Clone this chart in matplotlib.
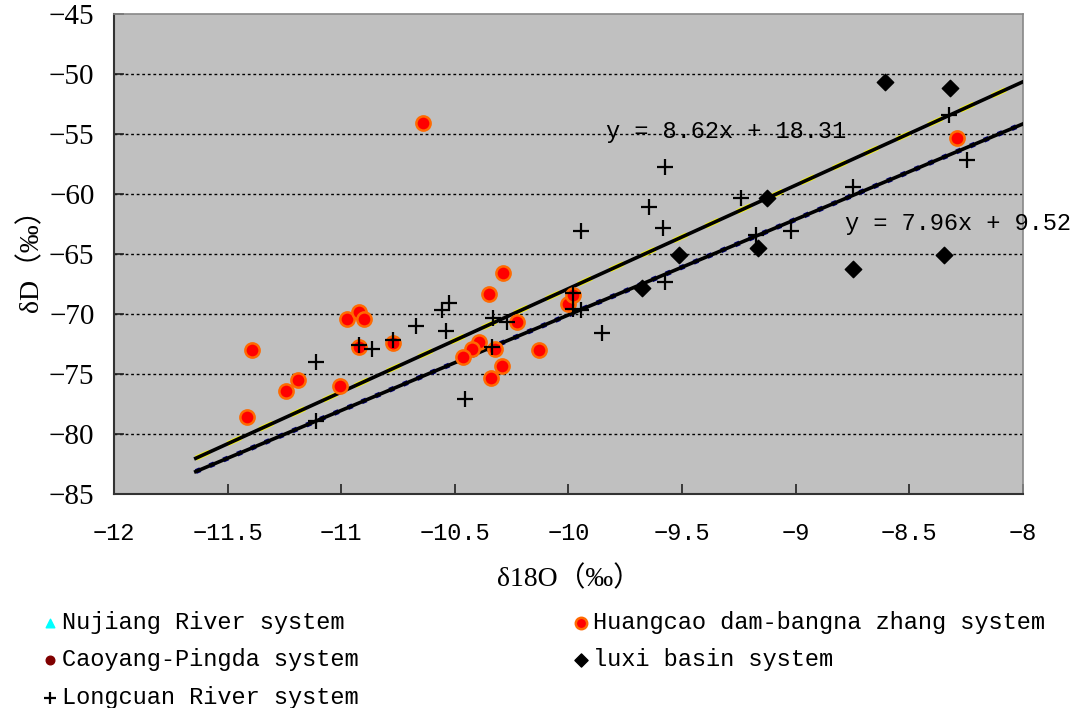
import matplotlib
matplotlib.use("Agg")
import matplotlib.pyplot as plt
import numpy as np

# Huangcao dam-bangna zhang system
huang_x = [-10.64, -8.29, -10.29, -10.35, -10.225, -10.394, -10.426, -10.465, -10.323,
           -10.294, -10.341, -10.131, -10.0, -9.978, -11.393, -11.415, -11.244, -11.191,
           -11.004, -10.974, -10.92, -10.898, -10.92, -10.773]
huang_y = [-54.08, -55.3, -66.6, -68.3, -70.67, -72.3, -72.94, -73.56, -72.89,
           -74.33, -75.33, -73.0, -69.2, -68.42, -73.03, -78.58, -76.39, -75.5,
           -75.97, -70.39, -69.8, -70.39, -72.72, -72.39]

# Longcuan River system
long_x = [-11.112, -11.112, -10.92, -10.866, -10.773, -10.671, -10.558, -10.524, -10.54,
          -10.33, -10.269, -10.338, -10.455, -9.978, -9.978, -9.946, -9.853, -9.945,
          -9.575, -9.644, -9.582, -9.575, -9.242, -9.176, -9.02, -8.748, -8.327, -8.247]
long_y = [-74.03, -78.89, -72.58, -72.92, -72.17, -70.97, -69.67, -69.06, -71.39,
          -70.36, -70.64, -72.78, -77.1, -68.22, -69.6, -69.67, -71.56, -63.06,
          -57.78, -61.06, -62.81, -67.31, -60.31, -63.42, -63.06, -59.43, -53.39, -57.2]

# luxi basin system
luxi_x = [-9.127, -9.513, -9.677, -9.164, -8.607, -8.32, -8.746, -8.346]
luxi_y = [-60.31, -65.11, -67.81, -64.53, -50.64, -51.19, -66.28, -65.08]

# no visible points for these two
nujiang_x, nujiang_y = [], []
caoyang_x, caoyang_y = [], []

# trend lines: slope, intercept
fit1 = (8.62, 18.31)
fit2 = (7.96, 9.52)
fit_x = [-11.64, -8.0]

xticks = [-12, -11.5, -11, -10.5, -10, -9.5, -9, -8.5, -8]
yticks = [-85, -80, -75, -70, -65, -60, -55, -50, -45]

mono = "Liberation Mono"
serif = ["Liberation Serif", "Noto Sans CJK SC"]

fig = plt.figure(figsize=(10.74, 7.08), dpi=100)
ax = fig.add_axes([0.1061, 0.3023, 0.8464, 0.678])
ax.set_facecolor("#C0C0C0")

ax.set_xlim(-12, -8)
ax.set_ylim(-85, -45)
ax.set_xticks(xticks)
ax.set_yticks(yticks)
ax.set_xticklabels([f"{t:g}".replace("-", "\u2212") for t in xticks],
                   family=mono, fontsize=17)
ax.set_yticklabels([f"{t:g}".replace("-", "\u2212") for t in yticks],
                   family="Liberation Serif", fontsize=21)
ax.tick_params(direction="in", length=7, width=1.2, color="#222222")
ax.tick_params(axis="x", pad=20)
ax.tick_params(axis="y", pad=14)

for yv in yticks[1:-1]:
    ax.axhline(yv, color="black", lw=1, ls=(0, (2, 2)), zorder=1)

for s in ["left", "bottom"]:
    ax.spines[s].set_color("#333333")
    ax.spines[s].set_linewidth(1.5)
for s in ["top", "right"]:
    ax.spines[s].set_color("#888888")
    ax.spines[s].set_linewidth(1.2)

fx = np.array(fit_x)
ax.plot(fx, fit1[0] * fx + fit1[1], color="yellow", lw=3.6, ls=(0, (3, 4)), zorder=2)
ax.plot(fx, fit1[0] * fx + fit1[1], color="black", lw=2.6, zorder=3)
ax.plot(fx, fit2[0] * fx + fit2[1], color="navy", lw=3.6, ls=(0, (1, 2)), zorder=2)
ax.plot(fx, fit2[0] * fx + fit2[1], color="black", lw=2.6, zorder=3)

ax.scatter(nujiang_x, nujiang_y, marker="^", s=60, color="#00FFFF", label="Nujiang River system")
ax.scatter(caoyang_x, caoyang_y, marker="o", s=60, color="#800000", label="Caoyang-Pingda system")
ax.scatter(long_x, long_y, marker="+", s=120, color="black", linewidths=1.6,
           label="Longcuan River system", zorder=5)
ax.scatter(huang_x, huang_y, marker="o", s=105, color="#FF0000", edgecolors="#FF6A00",
           linewidths=1.8, label="Huangcao dam-bangna zhang system", zorder=4)
ax.scatter(luxi_x, luxi_y, marker="D", s=70, color="black",
           label="luxi basin system", zorder=4)

ax.text(-9.835, -54.8, "y = 8.62x + 18.31", family=mono, fontsize=17,
        ha="left", va="center", zorder=6)
ax.text(-8.783, -62.45, "y = 7.96x + 9.52", family=mono, fontsize=17,
        ha="left", va="center", zorder=6, clip_on=False)

ax.set_xlabel("δ18O（‰）", family=serif, fontsize=20, labelpad=15)
ax.set_ylabel("δD（‰）", family=serif, fontsize=20, labelpad=3)

h, l = ax.get_legend_handles_labels()
fig.legend(h, l, ncol=2,
           loc="upper left", bbox_to_anchor=(0.025, 0.154), frameon=False,
           prop={"family": mono, "size": 17}, handletextpad=0.0,
           handlelength=1.0, columnspacing=8.9, labelspacing=0.62,
           borderpad=0, scatterpoints=1, markerscale=0.8)

fig.savefig("out.png", dpi=100)
